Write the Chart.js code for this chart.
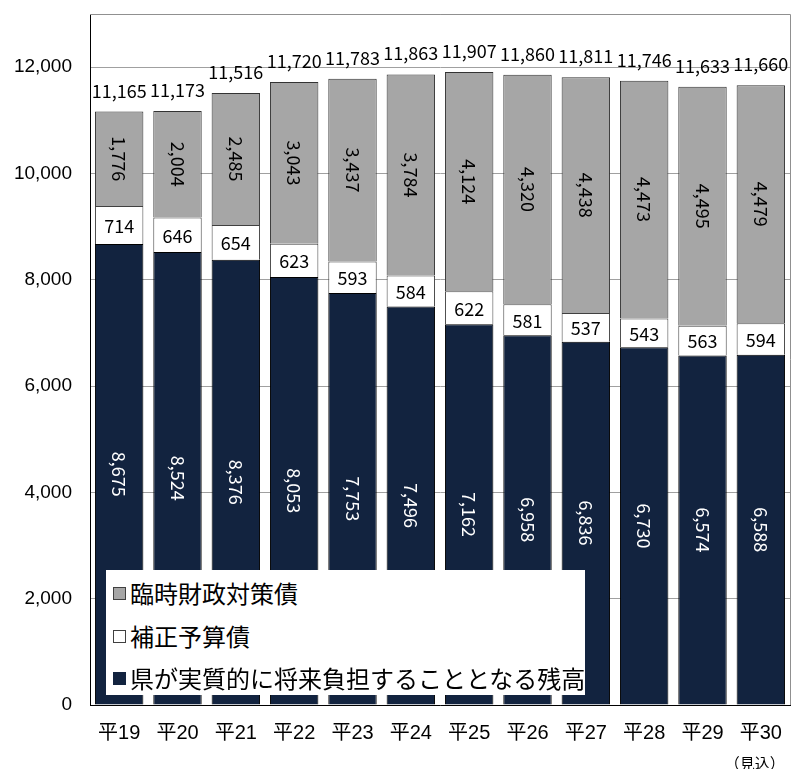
<!DOCTYPE html>
<html><head><meta charset="utf-8">
<script src="https://cdn.jsdelivr.net/npm/chart.js@4"></script>
<style>
body{margin:0;background:#fff;}
#wrap{position:relative;width:800px;height:769px;overflow:hidden;}
#legend{position:absolute;left:106px;top:570px;width:479px;height:125px;background:#fff;font-family:"Noto Sans CJK JP";font-size:24px;color:#000;}
.item{position:absolute;left:7px;height:30px;line-height:30px;display:flex;align-items:center;white-space:nowrap;}
.sw{width:13px;height:13px;border:1px solid #333;margin-right:4px;box-sizing:border-box;}
</style></head>
<body>
<div id="wrap">
<canvas id="c" width="800" height="769"></canvas>
<div id="legend">
  <div class="item" style="top:8px"><span class="sw" style="background:#A6A6A6;border-color:#404040"></span>臨時財政対策債</div>
  <div class="item" style="top:51px"><span class="sw" style="background:#fff;border-color:#404040"></span>補正予算債</div>
  <div class="item" style="top:93px"><span class="sw" style="background:#12233F;border-color:#12233F"></span>県が実質的に将来負担することとなる残高</div>
</div>
</div>
<script>
const categories = ['平19','平20','平21','平22','平23','平24','平25','平26','平27','平28','平29','平30'];
const seriesNames = ['県が実質的に将来負担することとなる残高','補正予算債','臨時財政対策債'];
const residual = [8675,8524,8376,8053,7753,7496,7162,6958,6836,6730,6574,6588];
const hosei = [714,646,654,623,593,584,622,581,537,543,563,594];
const rinji = [1776,2004,2485,3043,3437,3784,4124,4320,4438,4473,4495,4479];
const totals = [11165,11173,11516,11720,11783,11863,11907,11860,11811,11746,11633,11660];
const yTicks = [0,2000,4000,6000,8000,10000,12000];
const noteLabel = '（見込）';

const fmt = v => v.toLocaleString('en-US');

const labelPlugin = {
  id: 'valueLabels',
  afterDatasetsDraw(chart) {
    const ctx = chart.ctx;
    ctx.save();
    ctx.font = '18px "Noto Sans CJK JP"';
    chart.data.datasets.forEach((ds, di) => {
      const meta = chart.getDatasetMeta(di);
      meta.data.forEach((el, i) => {
        const p = el.getProps(['x','y','base'], true);
        const cy = (p.y + p.base) / 2;
        const txt = fmt(ds.data[i]);
        ctx.fillStyle = di === 0 ? '#ffffff' : '#000000';
        ctx.textAlign = 'center';
        ctx.textBaseline = 'middle';
        if (di === 1) {
          ctx.fillText(txt, p.x, cy + 1);
        } else {
          ctx.save();
          ctx.translate(p.x, cy);
          ctx.rotate(Math.PI / 2);
          ctx.fillText(txt, 0, 0);
          ctx.restore();
        }
      });
    });
    const topMeta = chart.getDatasetMeta(2);
    topMeta.data.forEach((el, i) => {
      ctx.fillStyle = '#000';
      ctx.textAlign = 'center';
      ctx.textBaseline = 'alphabetic';
      ctx.fillText(fmt(totals[i]), el.x, el.y - 14);
    });
    ctx.restore();
  },
  afterDraw(chart) {
    const ctx = chart.ctx;
    const a = chart.chartArea;
    ctx.save();
    ctx.strokeStyle = '#909090';
    ctx.lineWidth = 1;
    ctx.beginPath();
    ctx.moveTo(a.left, a.top + 0.5);
    ctx.lineTo(a.right + 0.5, a.top + 0.5);
    ctx.lineTo(a.right + 0.5, a.bottom);
    ctx.stroke();
    const xs = chart.scales.x;
    ctx.fillStyle = '#000';
    ctx.font = '15px "Noto Sans CJK JP"';
    ctx.textAlign = 'center';
    ctx.textBaseline = 'middle';
    ctx.fillText(noteLabel, xs.getPixelForValue(categories.length - 1) - 6, 763);
    ctx.restore();
  }
};

new Chart(document.getElementById('c'), {
  type: 'bar',
  data: {
    labels: categories,
    datasets: [
      { label: seriesNames[0], data: residual, backgroundColor: '#12233F', borderColor: '#000000', borderWidth: 1 },
      { label: seriesNames[1], data: hosei, backgroundColor: '#FFFFFF', borderColor: '#404040', borderWidth: 1 },
      { label: seriesNames[2], data: rinji, backgroundColor: '#A6A6A6', borderColor: '#333333', borderWidth: 1 }
    ]
  },
  options: {
    responsive: false,
    animation: false,
    devicePixelRatio: 1,
    layout: { padding: { top: 14, right: 10, left: 0, bottom: 0 } },
    plugins: { legend: { display: false }, tooltip: { enabled: false } },
    datasets: { bar: { barPercentage: 0.83, categoryPercentage: 1.0 } },
    scales: {
      x: {
        stacked: true,
        grid: { display: false },
        border: { color: '#000', width: 1 },
        ticks: { color: '#000', font: { family: '"Liberation Sans", "Noto Sans CJK JP"', size: 20 }, padding: 8, maxRotation: 0 },
        afterFit(s) { s.height = 64; s.paddingLeft = 0; s.paddingRight = 0; }
      },
      y: {
        stacked: true,
        min: 0,
        max: 13000,
        afterBuildTicks(s) { s.ticks = yTicks.concat([13000]).map(v => ({ value: v })); },
        grid: { color: '#A0A0A0', lineWidth: 1, drawTicks: false, tickLength: 0 },
        border: { color: '#000', width: 1 },
        ticks: {
          color: '#000',
          font: { family: '"Liberation Sans"', size: 19 },
          padding: 18,
          callback: v => (v === 13000 ? '' : fmt(v))
        },
        afterFit(s) { s.width = 90; s.paddingTop = 0; s.paddingBottom = 0; }
      }
    }
  },
  plugins: [labelPlugin]
});
</script>
</body></html>
